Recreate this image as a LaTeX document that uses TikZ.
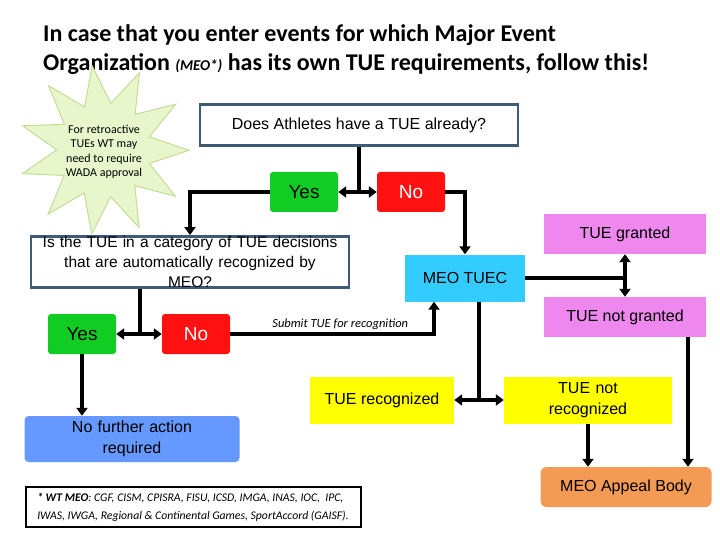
\documentclass[tikz,border=0pt]{standalone}
\usepackage{fontspec}
\setmainfont{Liberation Sans}
\newfontfamily\calib{Carlito}
\usetikzlibrary{positioning,shapes,arrows.meta}
\definecolor{yesgreen}{HTML}{11CC22}
\definecolor{nored}{HTML}{FF1111}
\definecolor{tuecyan}{HTML}{33CCFF}
\definecolor{tuepink}{HTML}{EE88EE}
\definecolor{tueyellow}{HTML}{FFFF00}
\definecolor{nfblue}{HTML}{6699FF}
\definecolor{appeal}{HTML}{F39A55}
\definecolor{boxline}{HTML}{3F5A78}
\definecolor{stargreen}{HTML}{E8F6CC}
\definecolor{starline}{HTML}{C4DC98}
\begin{document}
\begin{tikzpicture}[x=1pt,y=-1pt,
  every node/.style={inner sep=0pt},
  q/.style={draw=boxline,line width=2.5pt,fill=white,font=\fontsize{16}{19}\selectfont,align=center},
  yes/.style={fill=yesgreen,rounded corners=3pt,minimum width=68pt,minimum height=40pt,font=\fontsize{19}{22}\selectfont},
  no/.style={fill=nored,text=white,rounded corners=3pt,minimum width=68pt,minimum height=40pt,font=\fontsize{19}{22}\selectfont},
  res/.style={font=\fontsize{16}{21}\selectfont,align=center},
  arr/.style={line width=3.5pt,-{Triangle[length=8pt,width=11pt]}},
  darr/.style={line width=3.5pt,{Triangle[length=8pt,width=11pt]}-{Triangle[length=8pt,width=11pt]}}]
\useasboundingbox (0,0) rectangle (720,540);
% title
\node[anchor=west,font=\calib\bfseries\fontsize{24}{28}\selectfont] (title1) at (43,35) {In case that you enter events for which Major Event};
\node[anchor=west,font=\calib\bfseries\fontsize{24}{28}\selectfont] (title2) at (43,64) {Organization {\itshape\fontsize{15}{18}\selectfont (MEO*)} has its own TUE requirements, follow this!};
% star note
\node[star,star points=11,star point ratio=1.8,minimum size=170pt,fill=stargreen,draw=starline,line width=1pt,rotate=8] (star) at (104,150) {};
\node[font=\calib\fontsize{12}{14.5}\selectfont,align=center] (note) at (104,152) {For retroactive\\TUEs WT may\\need to require\\WADA approval};
% boxes
\node[q,minimum width=318pt,minimum height=41pt] (ask) at (359,125) {Does Athletes have a TUE already?};
\node[yes] (yes1) at (304,192) {Yes};
\node[no] (no1) at (411,192) {No};
\node[q,minimum width=318pt,minimum height=49pt,text width=312pt,font=\fontsize{15.5}{20}\selectfont] (cat) at (190,262) {Is the TUE in a category of TUE decisions\\that are automatically recognized by\\MEO?};
\node[yes] (yes2) at (82,334) {Yes};
\node[no] (no2) at (196,334) {No};
\node[fill=tuecyan,minimum width=120pt,minimum height=47pt,res] (tuec) at (465,278) {MEO TUEC};
\node[fill=tuepink,minimum width=162pt,minimum height=40pt,res] (granted) at (625,234) {TUE granted};
\node[fill=tuepink,minimum width=162pt,minimum height=40pt,res] (notgranted) at (625,317) {TUE not granted};
\node[fill=tueyellow,minimum width=144pt,minimum height=47pt,res] (recog) at (382,400) {TUE recognized};
\node[fill=tueyellow,minimum width=168pt,minimum height=47pt,res,text width=160pt] (notrecog) at (588,400) {TUE not\\recognized};
\node[fill=nfblue,rounded corners=4pt,minimum width=215pt,minimum height=46pt,res,text width=200pt] (nofurther) at (132,439) {No further action\\required};
\node[draw,line width=2pt,minimum width=335pt,minimum height=40pt,align=left,font=\calib\itshape\fontsize{11.7}{18}\selectfont] (foot) at (193,507) {{\bfseries * WT MEO}: CGF, CISM, CPISRA, FISU, ICSD, IMGA, INAS, IOC,~ IPC,\\IWAS, IWGA, Regional \& Continental Games, SportAccord (GAISF).};
\node[fill=appeal,rounded corners=6pt,minimum width=171pt,minimum height=40pt,res] (appealbody) at (626,487) {MEO Appeal Body};
% connectors
\coordinate (split1) at (ask.south |- yes1);
\draw[line width=3.5pt] (ask.south) -- (split1);
\draw[darr] (yes1.east) -- (no1.west);
\draw[arr] (yes1.west) -| (cat.north);
\draw[arr] (no1.east) -| (tuec.north);
\coordinate (split2) at (140,334);
\draw[line width=3.5pt] (cat.south -| split2) -- (split2);
\draw[darr] (yes2.east) -- (no2.west);
\draw[arr] (yes2.south) -- (yes2.south |- nofurther.north);
\draw[arr] (no2.east) -| node[pos=0.27,above=3pt,font=\calib\itshape\fontsize{12.5}{14}\selectfont] {Submit TUE for recognition} (tuec.south -| 434,0);
\coordinate (split3) at (625,278);
\draw[line width=3.5pt] (tuec.east) -- (split3);
\draw[darr] (granted.south) -- (notgranted.north);
\coordinate (split4) at (479,400);
\draw[line width=3.5pt] (tuec.south -| split4) -- (split4);
\draw[darr] (recog.east) -- (notrecog.west);
\draw[arr] (notrecog.south) -- (appealbody.north -| notrecog.south);
\draw[arr] (notgranted.south -| 688,0) -- (appealbody.north -| 688,0);
\end{tikzpicture}
\end{document}
